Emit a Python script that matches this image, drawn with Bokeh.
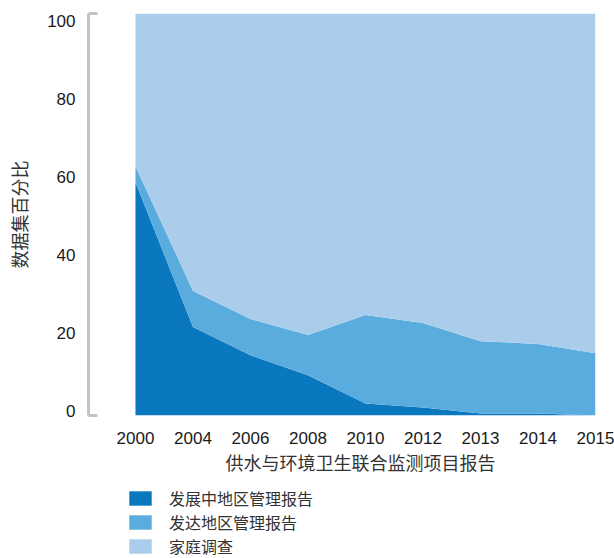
from bokeh.plotting import figure
from bokeh.layouts import column
from bokeh.models import (ColumnDataSource, Range1d, LinearAxis, FixedTicker, Title,
                          Legend, LegendItem)
from bokeh.embed import file_html
from bokeh.resources import INLINE

# ---- data ----
years = ["2000", "2004", "2006", "2008", "2010", "2012", "2013", "2014", "2015"]
developing_admin = [58, 22, 15, 10, 3, 2, 0.5, 0.5, 0]
developed_admin = [4, 9, 9, 10, 22, 21, 18, 17.3, 15.5]
household = [100 - a - b for a, b in zip(developing_admin, developed_admin)]
series_names = ["发展中地区管理报告", "发达地区管理报告", "家庭调查"]
colors = ["#0a78be", "#5bacde", "#abcdec"]
y_ticks = [0, 20, 40, 60, 80, 100]
x_title = "供水与环境卫生联合监测项目报告"
y_title = "数据集百分比"

NUM_FONT = "'Liberation Sans Narrow', 'Liberation Sans', sans-serif"
CJK_FONT = "Noto Sans CJK SC"

idx = list(range(len(years)))
src = ColumnDataSource(dict(x=idx, dev=developing_admin, dvd=developed_admin, hh=household))

p = figure(width=614, height=480, output_backend="svg", toolbar_location=None,
           x_range=Range1d(-0.817, len(years) - 1), y_range=Range1d(0, 100),
           min_border_left=88, min_border_right=19, min_border_top=13, min_border_bottom=65)
p.outline_line_color = None
p.grid.visible = False
p.background_fill_color = "white"
p.border_fill_color = "white"

rs = p.varea_stack(["dev", "dvd", "hh"], x="x", source=src, color=colors)

# x axis
xa = p.xaxis[0]
xa.ticker = FixedTicker(ticks=idx)
xa.major_label_overrides = {i: y for i, y in enumerate(years)}
xa.axis_line_color = None
xa.major_tick_line_color = None
xa.minor_tick_line_color = None
xa.major_label_standoff = 10
xa.major_label_text_font = NUM_FONT
xa.major_label_text_font_size = "17px"
xa.major_label_text_color = "#1a1a1a"

# y axis: bracket line
ya = p.yaxis[0]
ya.ticker = FixedTicker(ticks=[0, 100])
ya.axis_line_color = "#c3c3c5"
ya.axis_line_width = 3
ya.major_tick_line_color = "#c3c3c5"
ya.major_tick_line_width = 3
ya.major_tick_in = 9
ya.major_tick_out = 0
ya.minor_tick_line_color = None
ya.major_label_text_font_size = "1px"
ya.major_label_text_color = None
ya.major_label_standoff = 0

# y axis: labels
p.extra_y_ranges = {"lab": Range1d(-1.285, 102.05)}
la = LinearAxis(y_range_name="lab", ticker=FixedTicker(ticks=y_ticks))
la.axis_line_color = None
la.major_tick_line_color = None
la.minor_tick_line_color = None
la.major_label_standoff = 7
la.major_label_text_font = NUM_FONT
la.major_label_text_font_size = "17px"
la.major_label_text_color = "#1a1a1a"
la.axis_label = y_title
la.axis_label_text_font = CJK_FONT
la.axis_label_text_font_size = "18px"
la.axis_label_text_font_style = "normal"
la.axis_label_text_color = "#333333"
la.axis_label_standoff = 12
p.add_layout(la, "left")

# x title
t = Title(text=x_title, align="left", offset=137, standoff=0,
          text_font=CJK_FONT, text_font_size="18px", text_font_style="normal",
          text_color="#333333")
p.add_layout(t, "below")

# legend figure (swatches only; the placeholder glyphs have no drawable points)
nan = float("nan")
p2 = figure(width=614, height=78, output_backend="svg", toolbar_location=None,
            x_range=Range1d(0, 1), y_range=Range1d(0, 1), min_border=0,
            x_axis_type=None, y_axis_type=None)
p2.outline_line_color = None
p2.grid.visible = False
lrs = [p2.varea(x=[nan], y1=[nan], y2=[nan], color=c) for c in colors]
lg = Legend(items=[LegendItem(label=n, renderers=[r]) for n, r in zip(series_names, lrs)])
lg.location = (38, 0)
lg.orientation = "vertical"
lg.glyph_width = 28
lg.glyph_height = 18
lg.label_height = 18
lg.label_standoff = 15
lg.spacing = 0
lg.padding = 0
lg.margin = 0
lg.border_line_color = None
lg.background_fill_alpha = 0
lg.label_text_font = CJK_FONT
lg.label_text_font_size = "16px"
lg.label_text_color = "#333333"
p2.add_layout(lg, "center")

open("out.html", "w").write(file_html(column(p, p2, spacing=0), INLINE))
